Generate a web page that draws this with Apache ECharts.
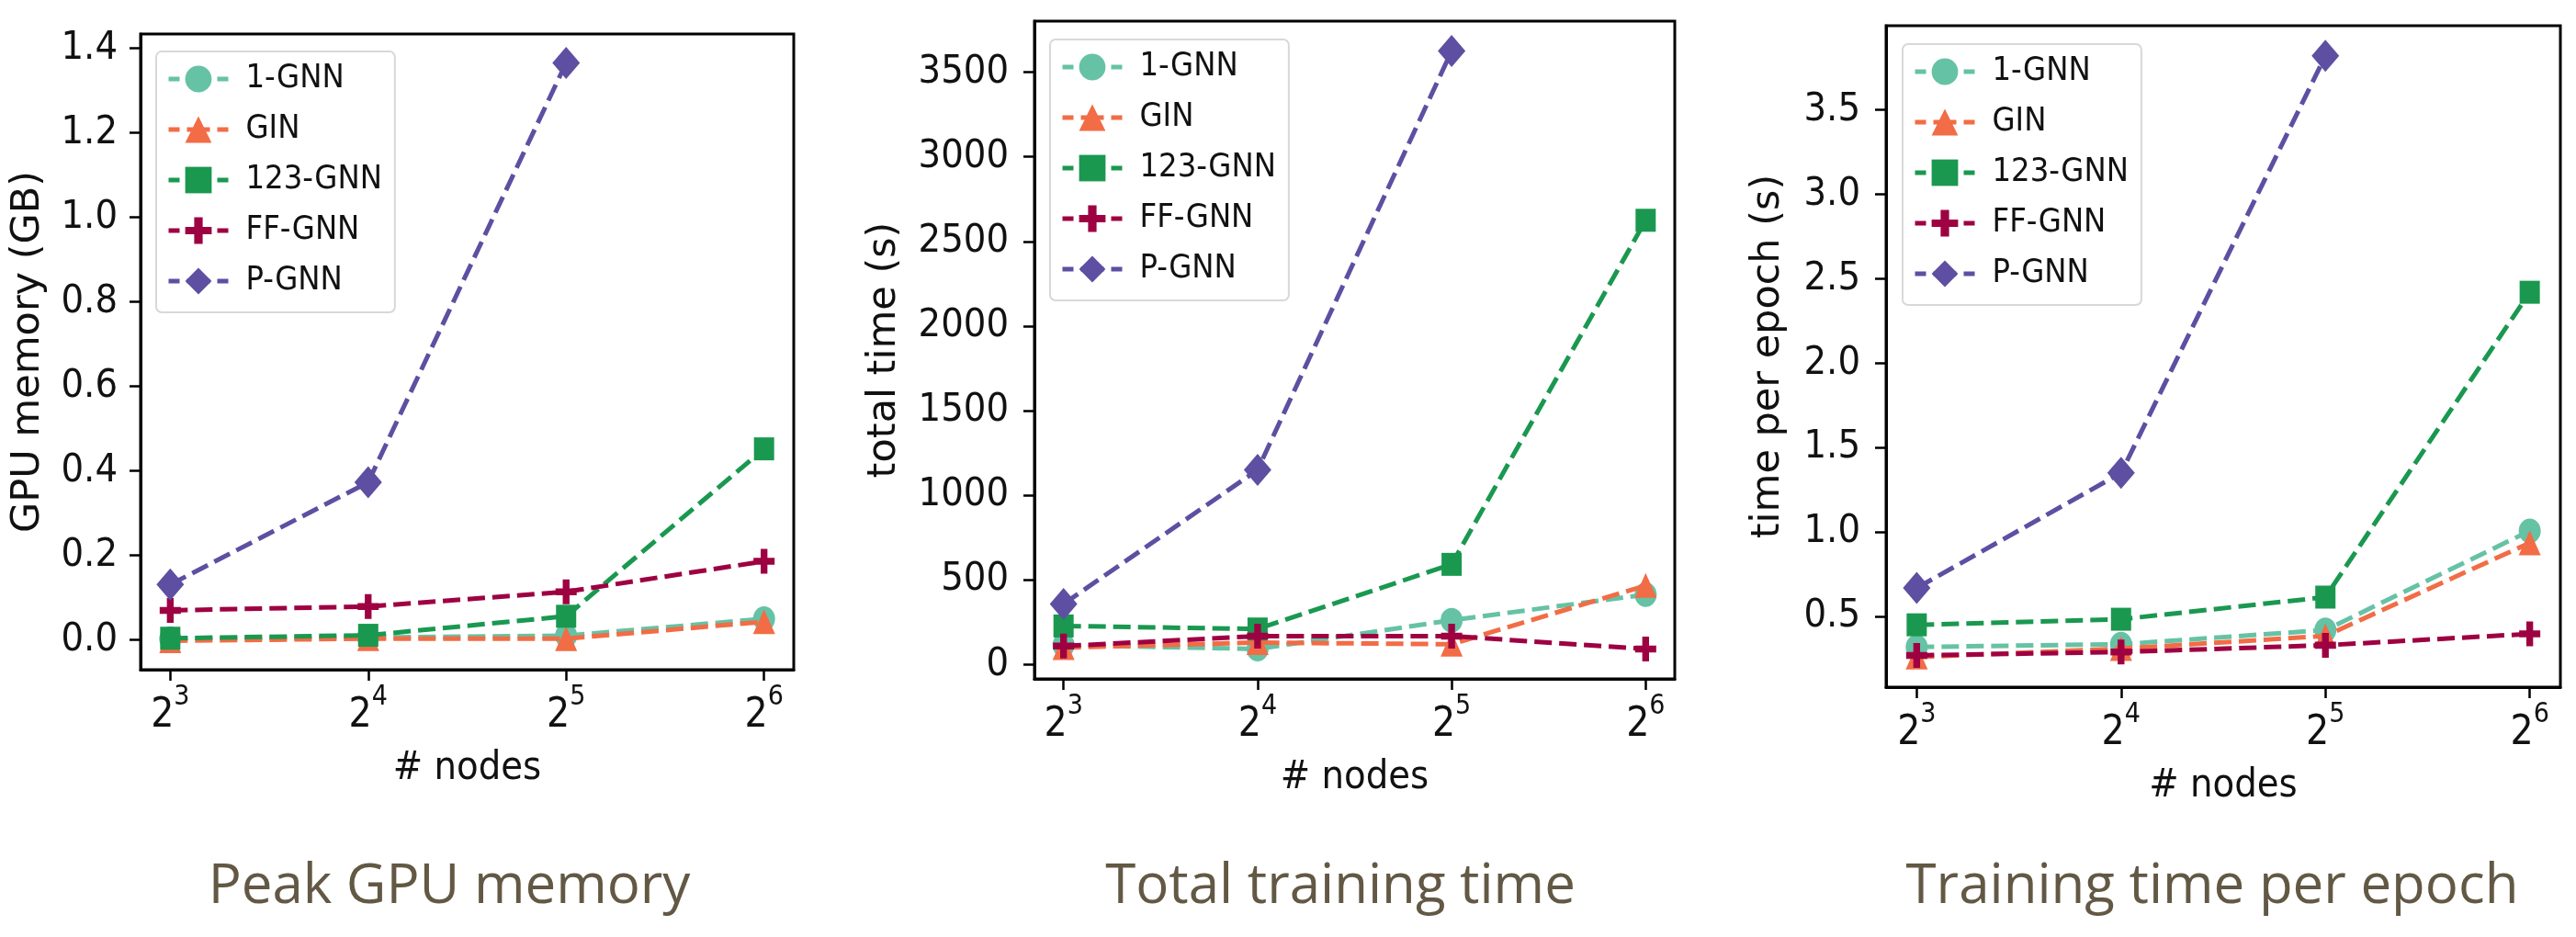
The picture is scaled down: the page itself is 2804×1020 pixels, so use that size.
<!DOCTYPE html>
<html lang="en">
<head>
    <meta charset="UTF-8">
    <title>GNN scaling</title>
    <script src="https://cdn.jsdelivr.net/npm/echarts@6/dist/echarts.min.js"></script>
</head>
<style>
    * {
        margin: 0px;
        padding: 0px;
    }
    html, body {
        width: 100%;
        height: 100%;
        overflow: hidden;
        background: #fff;
    }
    .container {
        width: 2804px;
        height: 1020px;
    }
</style>
<body>
    <div class="container"></div>
</body>
<script>
    // x values are exponents of 2 (# nodes = 2^x)
    let xExp = [3, 4, 5, 6];
    let names = ['1-GNN', 'GIN', '123-GNN', 'FF-GNN', 'P-GNN'];

    // peak GPU memory (GB)
    let memGnn1 = [0.003, 0.006, 0.01, 0.05];
    let memGin = [-0.002, 0.003, 0.003, 0.043];
    let memGnn123 = [0.004, 0.011, 0.056, 0.452];
    let memFf = [0.07, 0.079, 0.114, 0.186];
    let memP = [0.131, 0.373, 1.365, null];
    let memTicks = [0, 0.2, 0.4, 0.6, 0.8, 1.0, 1.2, 1.4];

    // total training time (s)
    let totGnn1 = [115, 92, 262, 413];
    let totGin = [100, 130, 120, 467];
    let totGnn123 = [228, 210, 592, 2625];
    let totFf = [109, 168, 168, 92];
    let totP = [358, 1150, 3625, null];
    let totTicks = [0, 500, 1000, 1500, 2000, 2500, 3000, 3500];

    // training time per epoch (s)
    let epGnn1 = [0.32, 0.336, 0.42, 1.007];
    let epGin = [0.26, 0.31, 0.385, 0.936];
    let epGnn123 = [0.451, 0.484, 0.615, 2.42];
    let epFf = [0.27, 0.29, 0.33, 0.397];
    let epP = [0.669, 1.35, 3.82, null];
    let epTicks = [0.5, 1.0, 1.5, 2.0, 2.5, 3.0, 3.5];

    let colors = ['#66c2a5', '#f26c45', '#1a9850', '#9e0142', '#5e4fa2'];
    let plus = 'path://M0.34,0H0.66V0.36H1V0.64H0.66V1H0.34V0.64H0V0.36H0.34Z';
    let symbols = ['circle', 'triangle', 'rect', plus, 'diamond'];
    let symbolSizes = [[24, 27], [24, 27], [22, 25], [23, 27], [30, 35]];

    let condensed = "'DejaVu Sans Condensed', 'DejaVu Sans', sans-serif";
    let textColor = '#111';

    let panels = [
        {
            values: [memGnn1, memGin, memGnn123, memFf, memP], ticks: memTicks, digits: 1,
            yName: 'GPU memory (GB)', title: 'Peak GPU memory',
            grid: {left: 153, right: 1940, top: 37, bottom: 291},
            legend: {left: 170, top: 56}, nameGap: 101, labelMargin: 25, titleX: 489
        },
        {
            values: [totGnn1, totGin, totGnn123, totFf, totP], ticks: totTicks, digits: 0,
            yName: 'total time (s)', title: 'Total training time',
            grid: {left: 1126, right: 981, top: 23, bottom: 281},
            legend: {left: 1143, top: 43}, nameGap: 142, labelMargin: 28, titleX: 1459
        },
        {
            values: [epGnn1, epGin, epGnn123, epFf, epP], ticks: epTicks, digits: 1,
            yName: 'time per epoch (s)', title: 'Training time per epoch',
            grid: {left: 2053, right: 17, top: 28, bottom: 272},
            legend: {left: 2071, top: 48}, nameGap: 107, labelMargin: 28, titleX: 2408
        }
    ];

    // matplotlib style auto limits: data range plus 5% margins
    function extent(arr) {
        let lo = Math.min(...arr), hi = Math.max(...arr);
        let pad = (hi - lo) * 0.05;
        return [lo - pad, hi + pad];
    }

    let grid = [], xAxis = [], yAxis = [], series = [], legend = [], graphic = [];
    let xr = extent(xExp);

    panels.forEach((p, i) => {
        grid.push(Object.assign({show: true, borderColor: '#000', borderWidth: 3}, p.grid));

        xAxis.push({
            type: 'value', gridIndex: i, min: xr[0], max: xr[1],
            axisLine: {show: true, onZero: false, lineStyle: {color: '#000', width: 3}},
            axisTick: {show: true, length: 12, customValues: xExp, lineStyle: {color: '#000', width: 2.5}},
            axisLabel: {
                customValues: xExp, margin: 15, color: textColor,
                formatter: v => '{b|2}{s|' + v + '}',
                rich: {
                    b: {fontSize: 44, fontFamily: condensed, color: textColor, lineHeight: 58, verticalAlign: 'bottom'},
                    s: {fontSize: 30, fontFamily: condensed, color: textColor, verticalAlign: 'top'}
                }
            },
            splitLine: {show: false},
            name: '# nodes', nameLocation: 'middle', nameGap: 86,
            nameTextStyle: {fontSize: 43, fontFamily: condensed, color: textColor}
        });

        let all = [].concat(...p.values).filter(v => v != null);
        let yr = extent(all);
        yAxis.push({
            type: 'value', gridIndex: i, min: yr[0], max: yr[1],
            axisLine: {show: true, onZero: false, lineStyle: {color: '#000', width: 3}},
            axisTick: {show: true, length: 12, customValues: p.ticks, lineStyle: {color: '#000', width: 2.5}},
            axisLabel: {
                customValues: p.ticks, margin: p.labelMargin, fontSize: 43, fontFamily: condensed, color: textColor,
                formatter: v => v.toFixed(p.digits)
            },
            splitLine: {show: false},
            name: p.yName, nameLocation: 'middle', nameRotate: 90, nameGap: p.nameGap,
            nameTextStyle: {fontSize: 43, fontFamily: 'DejaVu Sans', color: textColor}
        });

        p.values.forEach((vals, k) => {
            series.push({
                name: names[k],
                type: 'line',
                xAxisIndex: i,
                yAxisIndex: i,
                data: xExp.map((x, j) => [x, vals[j]]).filter(d => d[1] != null),
                symbol: symbols[k],
                symbolSize: symbolSizes[k],
                showAllSymbol: true,
                lineStyle: {color: colors[k], width: 5, type: [19, 8]},
                itemStyle: {color: colors[k]},
                z: 2 + k,
                animation: false
            });
        });

        legend.push({
            orient: 'vertical',
            left: p.legend.left,
            top: p.legend.top,
            data: names,
            selectedMode: false,
            itemWidth: 65,
            itemHeight: 36,
            itemGap: 15,
            padding: [10, 14, 14, 11],
            backgroundColor: 'rgba(255,255,255,0.8)',
            borderColor: '#d8d8d8',
            borderWidth: 2,
            borderRadius: 6,
            lineStyle: {width: 5, type: [12, 8, 25, 8]},
            textStyle: {fontSize: 36, lineHeight: 40, fontFamily: condensed, color: textColor, padding: [0, 0, 0, 14]}
        });

        graphic.push({
            type: 'text',
            x: p.titleX,
            y: 966,
            style: {
                text: p.title,
                fontSize: 60,
                fontFamily: "'Open Sans', sans-serif",
                fill: '#625844',
                align: 'center',
                verticalAlign: 'middle'
            }
        });
    });

    let container = document.querySelector('.container');
    let mycharts = echarts.init(container, null, {renderer: 'canvas'});
    mycharts.setOption({
        backgroundColor: '#fff',
        animation: false,
        grid,
        xAxis,
        yAxis,
        legend,
        series,
        graphic
    });
</script>
</html>
